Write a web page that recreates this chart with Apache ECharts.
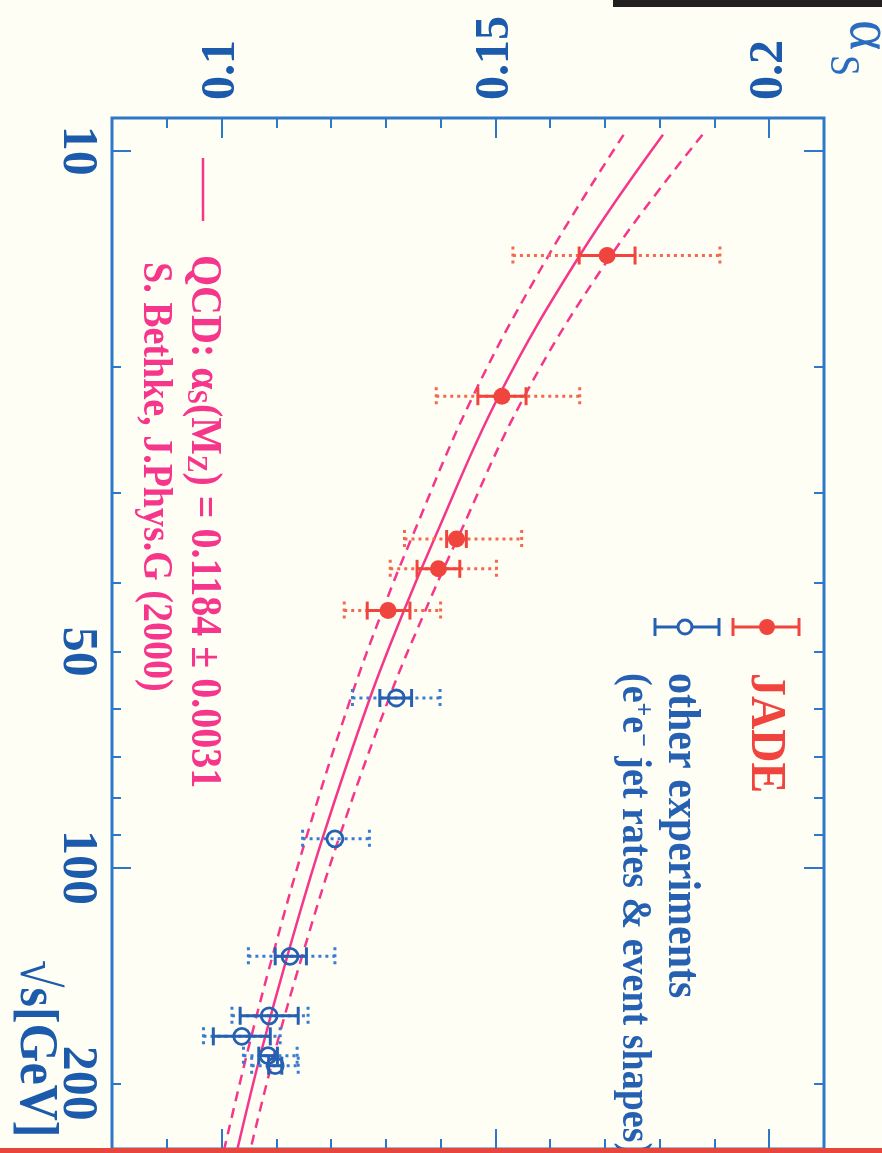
<!DOCTYPE html>
<html>
<head>
<meta charset="utf-8">
<script src="https://cdn.jsdelivr.net/npm/echarts@6/dist/echarts.min.js"></script>
<style>
  html, body { margin: 0; padding: 0; background: #fffef4; }
  #chart { width: 882px; height: 1153px; }
</style>
</head>
<body>
<div id="chart"></div>
<script>
// Running strong coupling alpha_s versus centre-of-mass energy sqrt(s)

// JADE measurements (filled red): sqrt(s) [GeV], alpha_s, stat. range, total range
const jadeSqrtS     = [14.0, 22.0, 34.8, 38.3, 43.8];
const jadeAlpha     = [0.1704, 0.1512, 0.1429, 0.1396, 0.1304];
const jadeStatLow   = [0.1653, 0.1468, 0.1411, 0.1357, 0.1266];
const jadeStatHigh  = [0.1755, 0.1556, 0.1447, 0.1435, 0.1344];
const jadeTotLow    = [0.1532, 0.1392, 0.1334, 0.1308, 0.1224];
const jadeTotHigh   = [0.1910, 0.1654, 0.1548, 0.1502, 0.1400];

// Other e+e- experiments (open blue)
const otherSqrtS    = [58, 91.2, 133, 161, 172, 183, 189];
const otherAlpha    = [0.1319, 0.1207, 0.1125, 0.1087, 0.1037, 0.1085, 0.1098];
const otherStatLow  = [0.1289, 0.1207, 0.1098, 0.1034, 0.0985, 0.1068, 0.1086];
const otherStatHigh = [0.1347, 0.1207, 0.1155, 0.1140, 0.1089, 0.1102, 0.1110];
const otherTotLow   = [0.1239, 0.1148, 0.1049, 0.1019, 0.0967, 0.1040, 0.1055];
const otherTotHigh  = [0.1399, 0.1270, 0.1207, 0.1158, 0.1107, 0.1138, 0.1140];

// QCD prediction with its uncertainty band
const curveSqrtS    = [9.5, 14, 22, 35, 44, 58, 91.2, 133, 180, 247];
const curveCentral  = [0.1806, 0.1654, 0.1506, 0.1387, 0.1332, 0.1271, 0.1184, 0.1120, 0.1073, 0.1029];
const curveLower    = [0.1734, 0.1597, 0.1459, 0.1345, 0.1293, 0.1236, 0.1154, 0.1093, 0.1048, 0.1005];
const curveUpper    = [0.1878, 0.1711, 0.1553, 0.1429, 0.1371, 0.1306, 0.1214, 0.1147, 0.1098, 0.1053];

// Axis ticks and labels
const alphaMajorTicks = [0.1, 0.15, 0.2];
const alphaMinorTicks = [0.09, 0.11, 0.12, 0.13, 0.14, 0.16, 0.17, 0.18, 0.19, 0.2];
const sqrtSMajorTicks = [10, 100];
const sqrtSMinorTicks = [20, 30, 40, 50, 60, 70, 80, 90, 200];
const sqrtSLabels     = [10, 50, 100, 200];

const SERIF = '"Liberation Serif", "DejaVu Serif", serif';
const FRAME = '#2d78c8';
const AXIS_TEXT = '#1c5bab';
const PINK = '#f5368a';
const RED = '#f0453f';
const RED_DOT = '#f3694e';
const BLUE = '#2660b3';
const BLUE_DOT = '#3a7ccf';

const chart = echarts.init(document.getElementById('chart'), null, { renderer: 'canvas' });

function alphaAxis(position, ticks, len, labels) {
  return {
    type: 'value', position, min: 0.08, max: 0.21,
    axisLine: { show: false },
    splitLine: { show: false },
    axisTick: { show: true, inside: true, length: len, customValues: ticks,
                lineStyle: { color: FRAME, width: 2 } },
    axisLabel: labels ? {
      show: true, customValues: labels, rotate: -90, margin: 18,
      formatter: v => String(+(+v).toFixed(2)),
      color: AXIS_TEXT, fontFamily: SERIF, fontWeight: 'bold', fontSize: 48
    } : { show: false }
  };
}

function sqrtSAxis(position, ticks, len, labels) {
  return {
    type: 'log', logBase: 10, position, min: 9, max: 247, inverse: true,
    axisLine: { show: false },
    splitLine: { show: false },
    minorTick: { show: false },
    axisTick: { show: true, inside: true, length: len, customValues: ticks,
                lineStyle: { color: FRAME, width: 2 } },
    axisLabel: labels ? {
      show: true, customValues: labels, rotate: -90, margin: 10,
      formatter: v => String(Math.round(v)),
      color: AXIS_TEXT, fontFamily: SERIF, fontWeight: 'bold', fontSize: 50
    } : { show: false }
  };
}

// Horizontal error bars: dotted for the total range, solid with caps for the statistical one
function errorBars(solidColor, dotColor) {
  return function (params, api) {
    const s = api.value(1);
    const at = a => api.coord([a, s]);
    const c = at(api.value(0));
    const sl = at(api.value(2)), sh = at(api.value(3));
    const tl = at(api.value(4)), th = at(api.value(5));
    const y = c[1], cap = 9;
    const dotted = { stroke: dotColor, lineWidth: 3, lineDash: [3, 4] };
    const solid = { stroke: solidColor, lineWidth: 3 };
    const seg = (x1, y1, x2, y2, style) => ({ type: 'line', shape: { x1, y1, x2, y2 }, style });
    const children = [
      seg(tl[0], y, th[0], y, dotted),
      seg(tl[0], y - cap, tl[0], y + cap, dotted),
      seg(th[0], y - cap, th[0], y + cap, dotted)
    ];
    if (sh[0] - sl[0] > 2) {
      children.push(
        seg(sl[0], y, sh[0], y, solid),
        seg(sl[0], y - cap, sl[0], y + cap, solid),
        seg(sh[0], y - cap, sh[0], y + cap, solid)
      );
    }
    return { type: 'group', children };
  };
}

function curve(name, values, dash) {
  return {
    name, type: 'line', xAxisIndex: 0, yAxisIndex: 0,
    data: curveSqrtS.map((s, i) => [values[i], s]),
    smooth: 0.4, symbol: 'none', silent: true, z: 2,
    lineStyle: { color: PINK, width: 2.5, type: dash ? [10, 7] : 'solid' }
  };
}

function vText(x, y, text, size, color, weight, extra) {
  return Object.assign({
    type: 'text', x, y, rotation: -Math.PI / 2, scaleY: 1.1, z: 20,
    style: {
      text, fill: color, fontSize: size, fontFamily: SERIF, fontWeight: weight,
      align: 'left', verticalAlign: 'middle', textAlign: 'left', textVerticalAlign: 'middle'
    }
  }, extra || {});
}

function richStyles(size, color) {
  const base = { fontSize: size, fontFamily: SERIF, fontWeight: 'bold', fill: color, color };
  return {
    m: base,
    sub: Object.assign({}, base, { fontSize: Math.round(size * 0.65), verticalAlign: 'bottom', lineHeight: 16 }),
    sup: Object.assign({}, base, { fontSize: Math.round(size * 0.62), verticalAlign: 'top', lineHeight: 16 })
  };
}

function legendBar(x1, x2, y, color, filled, cx) {
  const cap = 9;
  const ln = (a, b, c, d) => ({ type: 'line', shape: { x1: a, y1: b, x2: c, y2: d },
                                style: { stroke: color, lineWidth: 3 }, z: 20 });
  return [
    ln(x1, y, x2, y), ln(x1, y - cap, x1, y + cap), ln(x2, y - cap, x2, y + cap),
    { type: 'circle', shape: { cx, cy: y, r: filled ? 8 : 7 }, z: 21,
      style: filled ? { fill: color } : { fill: '#fffef4', stroke: color, lineWidth: 3 } }
  ];
}

const option = {
  animation: false,
  backgroundColor: '#fffef4',
  grid: { left: 112, top: 118, width: 712, height: 1031, show: true,
          borderColor: FRAME, borderWidth: 3, backgroundColor: 'transparent' },
  xAxis: [
    alphaAxis('top', alphaMajorTicks, 20, alphaMajorTicks),
    alphaAxis('top', alphaMinorTicks, 10, null),
    alphaAxis('bottom', alphaMajorTicks, 20, null),
    alphaAxis('bottom', alphaMinorTicks, 10, null)
  ],
  yAxis: [
    sqrtSAxis('left', sqrtSMajorTicks, 19, sqrtSLabels),
    sqrtSAxis('left', sqrtSMinorTicks, 9, null),
    sqrtSAxis('right', sqrtSMajorTicks, 20, null),
    sqrtSAxis('right', sqrtSMinorTicks, 10, null)
  ],
  series: [
    curve('QCD lower', curveLower, true),
    curve('QCD upper', curveUpper, true),
    curve('QCD', curveCentral, false),
    {
      name: 'JADE errors', type: 'custom', xAxisIndex: 0, yAxisIndex: 0, z: 3,
      renderItem: errorBars(RED, RED_DOT), encode: { x: 0, y: 1 },
      data: jadeSqrtS.map((s, i) => [jadeAlpha[i], s, jadeStatLow[i], jadeStatHigh[i], jadeTotLow[i], jadeTotHigh[i]])
    },
    {
      name: 'other errors', type: 'custom', xAxisIndex: 0, yAxisIndex: 0, z: 3,
      renderItem: errorBars(BLUE, BLUE_DOT), encode: { x: 0, y: 1 },
      data: otherSqrtS.map((s, i) => [otherAlpha[i], s, otherStatLow[i], otherStatHigh[i], otherTotLow[i], otherTotHigh[i]])
    },
    {
      name: 'JADE', type: 'scatter', xAxisIndex: 0, yAxisIndex: 0, z: 4,
      symbol: 'circle', symbolSize: 17, itemStyle: { color: RED, opacity: 1 },
      data: jadeSqrtS.map((s, i) => [jadeAlpha[i], s])
    },
    {
      name: 'other experiments', type: 'scatter', xAxisIndex: 0, yAxisIndex: 0, z: 4,
      symbol: 'circle', symbolSize: 16,
      itemStyle: { color: 'rgba(0,0,0,0)', borderColor: BLUE, borderWidth: 2.8, opacity: 1 },
      data: otherSqrtS.map((s, i) => [otherAlpha[i], s])
    }
  ],
  graphic: [
    // dark strip along the upper right edge
    { type: 'rect', shape: { x: 613, y: 0, width: 269, height: 7 }, style: { fill: '#231f20' }, z: 30 },
    // red rule along the lower edge
    { type: 'rect', shape: { x: 0, y: 1148, width: 882, height: 5 }, style: { fill: '#e8453c' }, z: 30 },

    // axis titles
    vText(868, 20, 'α', 58, '#2a6cc0', 'normal'),
    vText(842, 55, 'S', 38, '#2a6cc0', 'normal'),
    vText(35, 960, '√s[GeV]', 50, AXIS_TEXT, 'bold'),

    // QCD key and reference
    { type: 'line', shape: { x1: 203, y1: 158, x2: 203, y2: 221 }, style: { stroke: PINK, lineWidth: 2.5 }, z: 20 },
    vText(203, 255, '', 40, PINK, 'bold', {
      style: {
        text: '{m|QCD: α}{sub|S}{m|(M}{sub|Z}{m|) = 0.1184 ± 0.0031}',
        rich: richStyles(40, PINK), fill: PINK, fontSize: 40, fontFamily: SERIF, fontWeight: 'bold',
        align: 'left', verticalAlign: 'middle'
      }
    }),
    vText(155, 262, 'S. Bethke, J.Phys.G (2000)', 38, PINK, 'bold'),

    // data key
    ...legendBar(733, 799, 627, RED, true, 767),
    ...legendBar(655, 719, 627, BLUE, false, 685),
    vText(765, 673, 'JADE', 46, RED, 'bold'),
    vText(681, 673, 'other experiments', 42, BLUE, 'bold'),
    vText(634, 673, '', 38, BLUE, 'bold', {
      style: {
        text: '{m|(e}{sup|+}{m|e}{sup|−}{m| jet rates & event shapes)}',
        rich: richStyles(38, BLUE), fill: BLUE, fontSize: 38, fontFamily: SERIF, fontWeight: 'bold',
        align: 'left', verticalAlign: 'middle'
      }
    })
  ]
};

chart.setOption(option);
</script>
</body>
</html>
